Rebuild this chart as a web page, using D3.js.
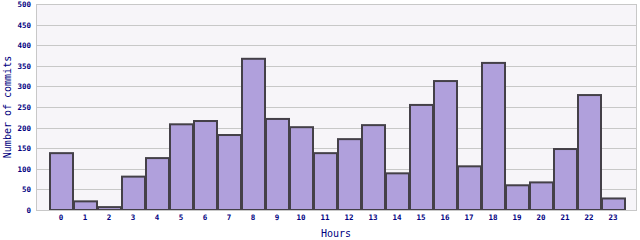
<!DOCTYPE html>
<html>
<head>
<meta charset="utf-8">
<script src="https://cdn.jsdelivr.net/npm/d3@7"></script>
<style>
  body { margin: 0; background: #ffffff; }
</style>
</head>
<body>
<div id="chart"></div>
<script>
// Commits per hour of day
const hours = d3.range(0, 24).map(String);
const commits = [138, 21, 7, 81, 126, 208, 216, 182, 367, 221, 201, 138,
                 172, 206, 89, 255, 313, 106, 357, 60, 67, 148, 279, 28];
const yTicks = [0, 50, 100, 150, 200, 250, 300, 350, 400, 450, 500];

const width = 640, height = 240;
const plot = { left: 36, right: 636, top: 4, bottom: 210 };

const svg = d3.select("#chart")
    .append("svg")
    .attr("width", width)
    .attr("height", height);

// Scales
const x = d3.scaleBand()
    .domain(hours)
    .range([49, 625])
    .padding(0);

const y = d3.scaleLinear()
    .domain([0, 500])
    .range([plot.bottom, plot.top]);

// Plot background
svg.append("rect")
    .attr("x", plot.left)
    .attr("y", plot.top)
    .attr("width", plot.right - plot.left)
    .attr("height", plot.bottom - plot.top)
    .attr("fill", "#f7f5f9")
    .attr("stroke", "#c8c8c8")
    .attr("stroke-width", 1)
    .attr("shape-rendering", "crispEdges");

// Horizontal gridlines
svg.append("g")
    .selectAll("line")
    .data(yTicks.slice(1))
    .enter()
    .append("line")
    .attr("x1", plot.left)
    .attr("x2", plot.right)
    .attr("y1", d => Math.round(y(d)) + 0.5)
    .attr("y2", d => Math.round(y(d)) + 0.5)
    .attr("stroke", "#c8c8c8")
    .attr("stroke-width", 1);

// Bars
svg.append("g")
    .selectAll("rect")
    .data(commits)
    .enter()
    .append("rect")
    .attr("x", (d, i) => x(hours[i]) + 1)
    .attr("y", d => y(d))
    .attr("width", x.bandwidth() - 1)
    .attr("height", d => y(0) - y(d))
    .attr("fill", "#b0a0dc")
    .attr("stroke", "#444048")
    .attr("stroke-width", 2);

// Axis lines
svg.append("line")
    .attr("x1", plot.left + 0.5).attr("x2", plot.left + 0.5)
    .attr("y1", plot.top).attr("y2", plot.bottom + 1)
    .attr("stroke", "#c8c8c8");
svg.append("line")
    .attr("x1", plot.left).attr("x2", plot.right)
    .attr("y1", plot.bottom + 0.5).attr("y2", plot.bottom + 0.5)
    .attr("stroke", "#c8c8c8");

// Y tick labels
svg.append("g")
    .selectAll("text")
    .data(yTicks)
    .enter()
    .append("text")
    .attr("x", 31)
    .attr("y", d => y(d) + 3)
    .attr("text-anchor", "end")
    .style("font-family", "DejaVu Sans Mono")
    .style("font-size", "7.5px")
    .style("font-weight", "bold")
    .style("fill", "#000080")
    .text(d => d);

// X tick labels
svg.append("g")
    .selectAll("text")
    .data(hours)
    .enter()
    .append("text")
    .attr("x", d => x(d) + x.bandwidth() / 2)
    .attr("y", 220)
    .attr("text-anchor", "middle")
    .style("font-family", "DejaVu Sans Mono")
    .style("font-size", "7.5px")
    .style("font-weight", "bold")
    .style("fill", "#000080")
    .text(d => d);

// Axis titles
svg.append("text")
    .attr("x", (plot.left + plot.right) / 2)
    .attr("y", 237)
    .attr("text-anchor", "middle")
    .style("font-family", "DejaVu Sans Mono")
    .style("font-size", "10px")
    .style("fill", "#000080")
    .text("Hours");

svg.append("text")
    .attr("transform", `translate(11, ${(plot.top + plot.bottom) / 2}) rotate(-90)`)
    .attr("text-anchor", "middle")
    .style("font-family", "DejaVu Sans Mono")
    .style("font-size", "10px")
    .style("fill", "#000080")
    .text("Number of commits");
</script>
</body>
</html>
